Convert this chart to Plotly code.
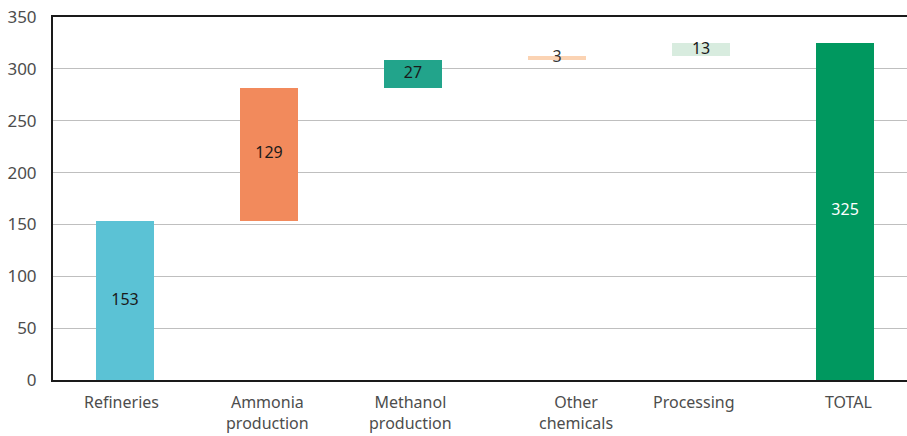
import plotly.graph_objects as go

categories = ["Refineries", "Ammonia<br>production", "Methanol<br>production",
              "Other<br>chemicals", "Processing", "TOTAL"]
values = [153, 129, 27, 3, 13, 325]
is_total = [False, False, False, False, False, True]
colors = ["#5BC2D5", "#F28A5C", "#22A48B", "#FBD3B3", "#D8ECDF", "#00985F"]
label_colors = ["#1a1a1a", "#1a1a1a", "#1a1a1a", "#333333", "#1a1a1a", "#ffffff"]
label_shift = [-4, -2, -3, 19, -7, 3]
y_ticks = [0, 50, 100, 150, 200, 250, 300, 350]

bases = []
running = 0
for v, t in zip(values, is_total):
    if t:
        bases.append(0)
    else:
        bases.append(running)
        running += v

xs = list(range(len(categories)))
mids = [b + v / 2 for b, v in zip(bases, values)]

fig = go.Figure()
fig.add_trace(go.Bar(
    x=xs, y=values, base=bases, marker=dict(color=colors, line=dict(width=0)),
    width=0.4, hoverinfo="skip", showlegend=False,
))
fig.add_trace(go.Scatter(
    x=xs, y=mids, mode="text", text=[str(v) for v in values],
    textfont=dict(family="Noto Sans", size=16, color=label_colors),
    textposition="middle center", hoverinfo="skip", showlegend=False,
))

for x, lab, sh in zip(xs, categories, label_shift):
    fig.add_annotation(
        x=x, y=0, xref="x", yref="y", text=lab, showarrow=False,
        xanchor="center", yanchor="top", yshift=-10, xshift=sh, borderpad=0,
        font=dict(family="Noto Sans", size=16, color="#4d4d4d"), align="center",
    )

fig.update_layout(
    width=907, height=436,
    margin=dict(l=53, r=0, t=17, b=56),
    paper_bgcolor="white", plot_bgcolor="white",
    font=dict(family="Noto Sans", size=17, color="#4d4d4d"),
    bargap=0,
    xaxis=dict(
        tickmode="array", tickvals=xs, ticktext=["" for _ in xs],
        range=[-0.5, 5.43], showgrid=False, zeroline=False,
        showline=True, linecolor="#1a1a1a", linewidth=2, mirror=True,
        ticks="",
    ),
    yaxis=dict(
        range=[0, 350], tickvals=y_ticks, showgrid=True, gridcolor="#bfbfbf",
        gridwidth=1, zeroline=False, showline=True, linecolor="#1a1a1a",
        linewidth=2, ticks="", ticklabelstandoff=11,
    ),
)

fig.write_html("out.html")
